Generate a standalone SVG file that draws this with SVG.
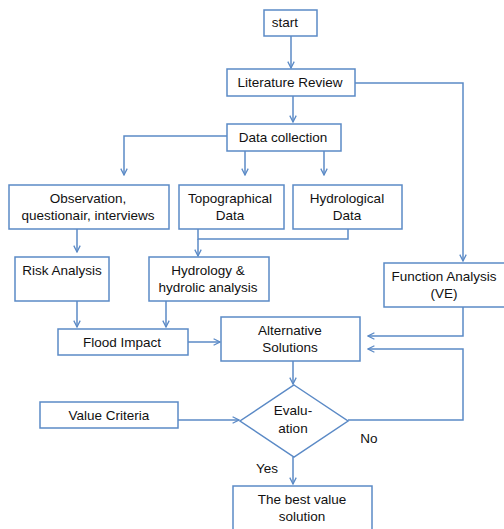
<svg xmlns="http://www.w3.org/2000/svg" width="504" height="529" viewBox="0 0 504 529">
<defs>
<marker id="ah" viewBox="0 0 10 10" refX="9" refY="5" markerWidth="8" markerHeight="8" markerUnits="userSpaceOnUse" orient="auto">
<path d="M1,1 L9,5 L1,9" fill="none" stroke="#5b8ac6" stroke-width="1.6"/>
</marker>
<style>
.b{fill:#ffffff;stroke:#5b8ac6;stroke-width:1.5}
.t{font-family:"Liberation Sans",Arial,sans-serif;font-size:13.5px;fill:#111;text-anchor:middle}
.c{fill:none;stroke:#5b8ac6;stroke-width:1.5}
</style>
</defs>
<rect width="504" height="529" fill="#ffffff"/>
<g id="connectors">
<path class="c" d="M291,36 V68" marker-end="url(#ah)"/>
<path class="c" d="M355,83 H463 V261" marker-end="url(#ah)"/>
<path class="c" d="M293,96 V122" marker-end="url(#ah)"/>
<path class="c" d="M227,136 H124 V175" marker-end="url(#ah)"/>
<path class="c" d="M245,151 V175" marker-end="url(#ah)"/>
<path class="c" d="M324,151 V175" marker-end="url(#ah)"/>
<path class="c" d="M198,229 V239 H348 V229"/>
<path class="c" d="M198,239 V256" marker-end="url(#ah)"/>
<path class="c" d="M77,229 V252" marker-end="url(#ah)"/>
<path class="c" d="M77,301 V327" marker-end="url(#ah)"/>
<path class="c" d="M166,301 V327" marker-end="url(#ah)"/>
<path class="c" d="M188,342 H220" marker-end="url(#ah)"/>
<path class="c" d="M463,307 V336 H368" marker-end="url(#ah)"/>
<path class="c" d="M348,420 H463 V349 H368" marker-end="url(#ah)"/>
<path class="c" d="M293,361 V384" marker-end="url(#ah)"/>
<path class="c" d="M178,420 H239" marker-end="url(#ah)"/>
<path class="c" d="M293,457 V484" marker-end="url(#ah)"/>
</g>
<g id="start"><rect class="b" x="264" y="10" width="53" height="26"/><text class="t" x="285" y="27">start</text></g>
<g id="literature"><rect class="b" x="227" y="69" width="128" height="27"/><text class="t" x="290" y="87">Literature Review</text></g>
<g id="datacollection"><rect class="b" x="227" y="124" width="114" height="27"/><text class="t" x="283" y="142">Data collection</text></g>
<g id="observation"><rect class="b" x="9" y="185" width="160" height="44"/><text class="t" x="88" y="203">Observation,</text><text class="t" x="88" y="220">questionair, interviews</text></g>
<g id="topographical"><rect class="b" x="179" y="185" width="105" height="44"/><text class="t" x="230" y="203">Topographical</text><text class="t" x="230" y="220">Data</text></g>
<g id="hydrological"><rect class="b" x="293" y="185" width="109" height="44"/><text class="t" x="347" y="203">Hydrological</text><text class="t" x="347" y="220">Data</text></g>
<g id="risk"><rect class="b" x="15" y="257" width="94" height="44"/><text class="t" x="62" y="275">Risk Analysis</text></g>
<g id="hydrology"><rect class="b" x="149" y="257" width="120" height="44"/><text class="t" x="208" y="275">Hydrology &amp;</text><text class="t" x="208" y="292">hydrolic analysis</text></g>
<g id="function"><rect class="b" x="384" y="263" width="125" height="44"/><text class="t" x="444" y="281">Function Analysis</text><text class="t" x="444" y="298">(VE)</text></g>
<g id="flood"><rect class="b" x="58" y="329" width="130" height="26"/><text class="t" x="122" y="347">Flood Impact</text></g>
<g id="alternative"><rect class="b" x="221" y="317" width="139" height="44"/><text class="t" x="290" y="335">Alternative</text><text class="t" x="290" y="352">Solutions</text></g>
<g id="valuecriteria"><rect class="b" x="40" y="402" width="138" height="26"/><text class="t" x="109" y="420">Value Criteria</text></g>
<g id="evaluation"><path class="b" d="M294,385 L348,421 L294,457 L240,421 Z"/><text class="t" x="293" y="415">Evalu-</text><text class="t" x="293" y="433">ation</text></g>
<g id="best"><rect class="b" x="233" y="486" width="139" height="50"/><text class="t" x="302" y="504">The best value</text><text class="t" x="302" y="521">solution</text></g>
<g id="labels"><text class="t" x="369" y="443">No</text><text class="t" x="267" y="473">Yes</text></g>
</svg>
